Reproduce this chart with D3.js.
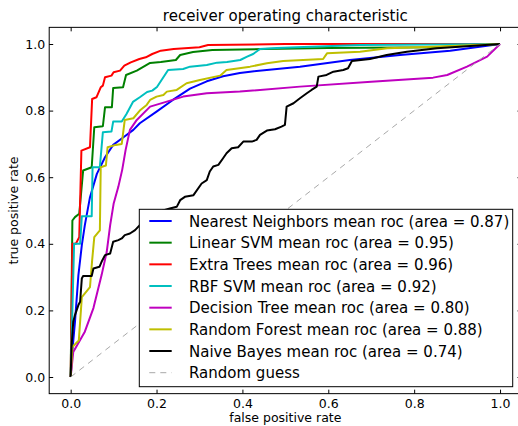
<!DOCTYPE html>
<html>
<head>
<meta charset="utf-8">
<script src="https://cdn.jsdelivr.net/npm/d3@7/dist/d3.min.js"></script>
<style>
  body { margin: 0; background: #fff; }
  text { font-family: "DejaVu Sans", sans-serif; fill: #000; }
</style>
</head>
<body>
<svg id="chart" width="518" height="426"></svg>
<script>
// Classifier names, colours and AUC values shown in the legend
const classifierNames = ["Nearest Neighbors", "Linear SVM", "Extra Trees", "RBF SVM",
                         "Decision Tree", "Random Forest", "Naive Bayes"];
const classifierColors = ["#0000ff", "#008000", "#ff0000", "#00bfbf", "#bf00bf", "#bfbf00", "#000000"];
const classifierAreas = [0.87, 0.95, 0.96, 0.92, 0.80, 0.88, 0.74];

// Mean ROC curves as [false positive rate, true positive rate]
const nearestNeighborsRoc = [[0,0],[0.004,0.08],[0.01,0.165],[0.018,0.306],[0.026,0.396],[0.033,0.456],
  [0.045,0.54],[0.061,0.61],[0.08,0.66],[0.099,0.697],[0.123,0.72],[0.146,0.742],[0.161,0.762],
  [0.2,0.797],[0.238,0.832],[0.278,0.866],[0.317,0.888],[0.355,0.903],[0.394,0.913],[0.418,0.917],
  [0.534,0.932],[0.65,0.952],[0.767,0.967],[0.884,0.98],[1,1]];
const linearSvmRoc = [[0,0],[0.004,0.47],[0.01,0.48],[0.02,0.49],[0.029,0.62],[0.049,0.63],[0.055,0.75],
  [0.075,0.753],[0.08,0.81],[0.096,0.81],[0.099,0.868],[0.122,0.87],[0.129,0.907],[0.154,0.92],
  [0.185,0.943],[0.21,0.946],[0.245,0.952],[0.255,0.967],[0.285,0.976],[0.33,0.982],[0.45,0.985],
  [0.6,0.988],[0.85,0.99],[1,1]];
const extraTreesRoc = [[0,0],[0.004,0.40],[0.012,0.40],[0.02,0.42],[0.025,0.68],[0.045,0.69],[0.05,0.835],
  [0.06,0.84],[0.07,0.87],[0.075,0.875],[0.08,0.90],[0.095,0.905],[0.1,0.915],[0.115,0.92],
  [0.125,0.935],[0.14,0.945],[0.16,0.955],[0.175,0.96],[0.19,0.97],[0.21,0.98],[0.24,0.985],
  [0.3,0.99],[0.32,0.997],[0.5,1.0],[1,1]];
const rbfSvmRoc = [[0,0],[0.004,0.2],[0.008,0.4],[0.022,0.4],[0.026,0.483],[0.049,0.483],[0.051,0.63],
  [0.068,0.63],[0.075,0.735],[0.095,0.737],[0.099,0.767],[0.119,0.767],[0.13,0.79],[0.145,0.826],
  [0.161,0.84],[0.178,0.856],[0.19,0.86],[0.201,0.871],[0.227,0.922],[0.262,0.925],[0.278,0.932],
  [0.317,0.937],[0.341,0.944],[0.364,0.946],[0.395,0.952],[0.411,0.962],[0.425,0.97],[0.441,0.985],
  [0.48,0.988],[0.527,0.99],[0.674,0.997],[1,1]];
const decisionTreeRoc = [[0,0],[0.006,0.075],[0.033,0.136],[0.053,0.207],[0.072,0.306],[0.084,0.376],
  [0.092,0.456],[0.1,0.52],[0.111,0.571],[0.12,0.622],[0.128,0.682],[0.138,0.742],[0.154,0.772],
  [0.185,0.812],[0.224,0.827],[0.262,0.842],[0.317,0.852],[0.394,0.857],[0.534,0.872],[0.7,0.887],
  [0.844,0.899],[0.877,0.907],[0.923,0.932],[0.97,0.962],[1,1]];
const randomForestRoc = [[0,0],[0.004,0.09],[0.019,0.11],[0.026,0.24],[0.045,0.27],[0.05,0.35],
  [0.055,0.42],[0.068,0.44],[0.07,0.63],[0.082,0.635],[0.086,0.69],[0.105,0.697],[0.119,0.7],
  [0.126,0.772],[0.146,0.777],[0.161,0.8],[0.177,0.817],[0.185,0.832],[0.2,0.842],[0.216,0.847],
  [0.224,0.857],[0.247,0.862],[0.27,0.882],[0.301,0.892],[0.348,0.905],[0.363,0.922],[0.418,0.932],
  [0.457,0.942],[0.495,0.949],[0.588,0.955],[0.597,0.972],[0.674,0.977],[0.737,0.987],[0.844,0.992],[1,1]];
const naiveBayesRoc = [[0,0],[0.002,0.09],[0.006,0.166],[0.01,0.186],[0.018,0.216],[0.022,0.226],
  [0.026,0.296],[0.029,0.303],[0.049,0.303],[0.053,0.326],[0.067,0.331],[0.072,0.346],[0.08,0.366],
  [0.092,0.371],[0.099,0.406],[0.111,0.411],[0.119,0.416],[0.126,0.426],[0.138,0.431],[0.15,0.441],
  [0.161,0.456],[0.175,0.47],[0.19,0.475],[0.2,0.49],[0.215,0.5],[0.231,0.506],[0.247,0.511],
  [0.255,0.531],[0.266,0.541],[0.286,0.546],[0.305,0.581],[0.317,0.591],[0.324,0.617],[0.332,0.632],
  [0.344,0.637],[0.355,0.657],[0.363,0.672],[0.375,0.687],[0.39,0.69],[0.402,0.707],[0.422,0.707],
  [0.433,0.712],[0.441,0.727],[0.457,0.74],[0.476,0.744],[0.491,0.752],[0.499,0.757],[0.503,0.812],
  [0.519,0.822],[0.534,0.837],[0.55,0.852],[0.561,0.862],[0.573,0.872],[0.577,0.902],[0.596,0.907],
  [0.612,0.917],[0.635,0.922],[0.646,0.927],[0.655,0.949],[0.697,0.955],[0.736,0.967],[0.783,0.977],
  [0.853,0.987],[1,1]];
const randomGuess = [[0,0],[1,1]];

const tickValues = [0, 0.2, 0.4, 0.6, 0.8, 1.0];
const tickLabels = ["0.0", "0.2", "0.4", "0.6", "0.8", "1.0"];

const rocCurves = [nearestNeighborsRoc, linearSvmRoc, extraTreesRoc, rbfSvmRoc,
                   decisionTreeRoc, randomForestRoc, naiveBayesRoc];

const svg = d3.select("#chart");
const plot = { left: 49.2, right: 521.5, top: 27.35, bottom: 393.65 };

const x = d3.scaleLinear().domain([-0.05, 1.05]).range([plot.left, plot.right]);
const y = d3.scaleLinear().domain([-0.05, 1.05]).range([plot.bottom, plot.top]);

svg.append("defs").append("clipPath").attr("id", "plot-clip")
  .append("rect").attr("x", plot.left).attr("y", plot.top)
  .attr("width", plot.right - plot.left).attr("height", plot.bottom - plot.top);

const line = d3.line().x(d => x(d[0])).y(d => y(d[1]));

const curves = svg.append("g").attr("clip-path", "url(#plot-clip)");
rocCurves.forEach((pts, i) => {
  curves.append("path").datum(pts).attr("d", line)
    .attr("fill", "none").attr("stroke", classifierColors[i])
    .attr("stroke-width", 2).attr("stroke-linejoin", "round");
});
curves.append("path").datum(randomGuess).attr("d", line)
  .attr("fill", "none").attr("stroke", "#a8a8a8").attr("stroke-width", 1)
  .attr("stroke-dasharray", "6,5");

// Axes with inward ticks on every side
const fmt = (d, i) => tickLabels[i];
function styleAxis(g, withLabels) {
  g.select(".domain").remove();
  g.selectAll(".tick line").attr("stroke", "#000");
  g.selectAll(".tick text").attr("font-size", "12.5px").attr("font-family", "DejaVu Sans")
    .attr("fill", "#000");
  if (!withLabels) g.selectAll(".tick text").remove();
}
svg.append("g").attr("transform", `translate(0,${plot.bottom})`)
  .call(d3.axisBottom(x).tickValues(tickValues).tickFormat(fmt).tickSizeInner(-4).tickSizeOuter(0).tickPadding(5))
  .call(g => styleAxis(g, true));
svg.append("g").attr("transform", `translate(0,${plot.top})`)
  .call(d3.axisTop(x).tickValues(tickValues).tickSizeInner(-4).tickSizeOuter(0))
  .call(g => styleAxis(g, false));
svg.append("g").attr("transform", `translate(${plot.left},0)`)
  .call(d3.axisLeft(y).tickValues(tickValues).tickFormat(fmt).tickSizeInner(-4).tickSizeOuter(0).tickPadding(4))
  .call(g => styleAxis(g, true));
svg.append("g").attr("transform", `translate(${plot.right},0)`)
  .call(d3.axisRight(y).tickValues(tickValues).tickSizeInner(-4).tickSizeOuter(0))
  .call(g => styleAxis(g, false));

svg.append("rect").attr("x", plot.left).attr("y", plot.top)
  .attr("width", plot.right - plot.left).attr("height", plot.bottom - plot.top)
  .attr("fill", "none").attr("stroke", "#000").attr("stroke-width", 1);

// Title and axis labels
svg.append("text").attr("x", (plot.left + plot.right) / 2).attr("y", 21)
  .attr("text-anchor", "middle").attr("font-size", "15px")
  .text("receiver operating characteristic");
svg.append("text").attr("x", (plot.left + plot.right) / 2).attr("y", 421.5)
  .attr("text-anchor", "middle").attr("font-size", "12.5px")
  .text("false positive rate");
svg.append("text").attr("transform", `translate(18,${(plot.top + plot.bottom) / 2}) rotate(-90)`)
  .attr("text-anchor", "middle").attr("font-size", "12.5px")
  .text("true positive rate");

// Legend
const legendLabels = classifierNames.map((n, i) => `${n} mean roc (area = ${classifierAreas[i].toFixed(2)})`)
  .concat(["Random guess"]);
const legendColors = classifierColors.concat(["#a8a8a8"]);
const legend = svg.append("g");
legend.append("rect").attr("x", 139.3).attr("y", 209.3).attr("width", 373.4).attr("height", 177.4)
  .attr("fill", "#fff").attr("stroke", "#000").attr("stroke-width", 1);
legendLabels.forEach((label, i) => {
  const ly = 221 + 21.67 * i;
  const isGuess = i === legendLabels.length - 1;
  legend.append("line").attr("x1", 149.3).attr("x2", 171.7).attr("y1", ly).attr("y2", ly)
    .attr("stroke", legendColors[i]).attr("stroke-width", isGuess ? 1 : 2)
    .attr("stroke-dasharray", isGuess ? "6,5" : null);
  legend.append("text").attr("x", 189).attr("y", ly + 5.5).attr("font-size", "15px").text(label);
});
</script>
</body>
</html>
